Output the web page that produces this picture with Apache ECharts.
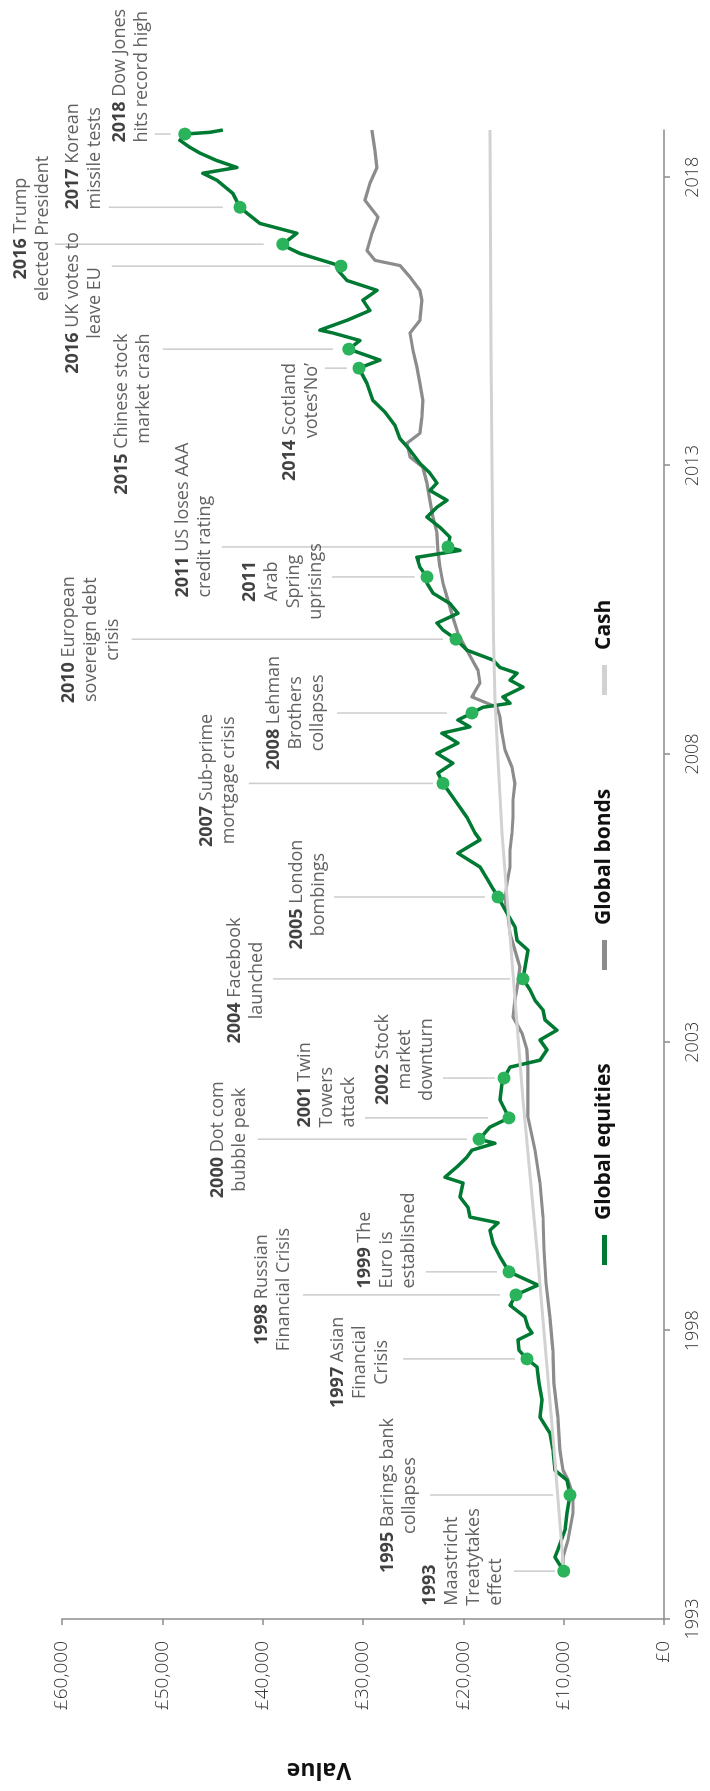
<!DOCTYPE html>
<html><head><meta charset="utf-8">
<script src="https://cdn.jsdelivr.net/npm/echarts@6/dist/echarts.min.js"></script>
<style>
html,body{margin:0;padding:0;width:710px;height:1791px;overflow:hidden;background:#fff;}
#wrap{position:absolute;left:0;top:0;width:1791px;height:710px;transform-origin:0 0;transform:translateY(1791px) rotate(-90deg);}
#chart{width:1791px;height:710px;}
</style></head><body>
<div id="wrap"><div id="chart"></div></div>
<script>
// ---------- DATA ----------
const equityYear = [1993.83,1994.07,1994.20,1994.54,1994.84,1995.15,1995.41,1995.58,1995.93,1996.22,1996.50,1996.80,1997.09,1997.37,1997.51,1997.66,1997.84,1997.96,1998.06,1998.24,1998.44,1998.62,1998.79,1999.02,1999.28,1999.52,1999.74,1999.87,1999.97,2000.14,2000.32,2000.56,2000.66,2000.84,2001.01,2001.13,2001.25,2001.32,2001.43,2001.53,2001.69,2002.00,2002.29,2002.38,2002.57,2002.69,2002.87,2003.04,2003.21,2003.39,2003.56,2003.73,2003.91,2004.10,2004.30,2004.60,2004.77,2005.00,2005.24,2005.52,2005.69,2005.81,2006.04,2006.28,2006.51,2006.63,2006.90,2007.20,2007.49,2007.67,2007.84,2008.01,2008.19,2008.36,2008.47,2008.59,2008.71,2008.81,2008.88,2008.99,2009.16,2009.28,2009.40,2009.50,2009.63,2009.80,2009.99,2010.15,2010.27,2010.44,2010.61,2010.79,2010.96,2011.07,2011.24,2011.41,2011.53,2011.59,2011.76,2011.93,2012.11,2012.28,2012.40,2012.57,2012.70,2012.87,2013.04,2013.27,2013.47,2013.70,2013.93,2014.13,2014.43,2014.69,2014.83,2015.02,2015.17,2015.30,2015.35,2015.52,2015.69,2015.87,2016.04,2016.21,2016.39,2016.46,2016.61,2016.68,2016.79,2016.84,2017.03,2017.20,2017.38,2017.48,2017.72,2017.95,2018.07,2018.17,2018.29,2018.42,2018.52,2018.64,2018.75,2018.78,2018.82];
const equityValue = [10000,10870,10570,9870,9670,9370,9670,10870,11070,11370,12360,12160,12460,12660,13660,14460,14560,13160,13560,13860,15350,14760,12560,15450,16350,17050,17350,16550,19340,19540,20340,20040,21830,20640,19640,19140,16850,18440,17850,17350,15450,16350,16150,15950,15350,12360,11660,12360,10670,11860,12060,12860,13360,14060,13860,13560,14660,14860,15650,16550,17150,17550,18340,20540,18340,18840,19640,20840,22030,22530,21040,22630,20540,22130,19340,20540,19140,18050,15350,16050,14060,15350,14660,16350,17050,19640,20740,22030,22630,20540,21340,23030,23630,23630,24330,24630,20340,21540,21340,22330,23630,22630,21630,23330,22630,23330,24330,25320,26320,26820,27820,29010,29610,30410,28310,31410,30310,33000,34300,31600,29310,30010,28610,31600,32500,32200,35000,36290,37590,37990,36590,40280,41570,42270,42970,44570,45960,42570,44570,46260,47260,48250,47760,45260,43970];

const bondYear = [1993.83,1994.07,1994.37,1994.84,1995.15,1995.41,1995.58,1995.93,1996.50,1997.09,1997.66,1998.24,1998.83,1999.40,1999.97,2000.56,2001.13,2001.70,2002.29,2002.57,2002.87,2003.16,2003.44,2003.73,2004.03,2004.30,2004.60,2004.89,2005.17,2005.47,2005.76,2006.04,2006.33,2006.63,2006.90,2007.20,2007.49,2007.77,2008.07,2008.36,2008.64,2008.81,2008.99,2009.23,2009.45,2009.80,2010.09,2010.37,2010.67,2010.96,2011.24,2011.53,2011.83,2012.11,2012.40,2012.70,2012.97,2013.15,2013.39,2013.56,2013.84,2014.13,2014.43,2014.71,2015.00,2015.30,2015.52,2015.87,2016.04,2016.27,2016.47,2016.56,2016.73,2017.03,2017.31,2017.60,2017.90,2018.17,2018.47,2018.82];
const bondValue = [10000,10070,9570,9070,9070,9570,10070,10370,10570,10970,11070,11370,11760,11960,12060,12360,12860,13560,13560,13560,13660,14160,15050,14860,14560,14360,14860,15350,15550,15850,15650,15350,15350,15150,15050,15050,14860,15150,15850,16150,16350,16650,19140,18340,18540,19640,20540,21040,21540,22030,22330,22530,22630,23030,23330,23630,24030,25320,25620,24330,24130,24030,24330,24630,25020,25320,24330,24130,24330,25320,26320,28810,29610,29110,28510,29810,29310,28610,28810,29110];

const cashYear = [1993.83,1996.00,1999.40,2002.00,2004.30,2006.63,2008.07,2008.93,2010.00,2015.00,2018.82];
const cashValue = [10000,11000,12660,14060,15100,16150,16600,16850,17000,17250,17350];

const eventYear = [1993.83,1995.15,1997.51,1998.62,1999.02,2001.32,2001.69,2002.38,2004.10,2005.52,2007.49,2008.71,2009.99,2011.07,2011.59,2014.69,2015.02,2016.46,2016.84,2017.48,2018.75];
const eventValue = [10000,9370,13660,14760,15450,18440,15450,15950,14060,16550,22030,19140,20740,23630,21540,30410,31410,32200,37990,42270,47760];
const eventTitle = ['1993','1995','1997','1998','1999','2000','2001','2002','2004','2005','2007','2008','2010','2011','2011','2014','2015','2016','2016','2017','2018'];
const eventText = [
  ['', 'Maastricht', 'Treatytakes', 'effect'],
  ['Barings bank', 'collapses'],
  ['Asian', 'Financial', 'Crisis'],
  ['Russian', 'Financial Crisis'],
  ['The', 'Euro is', 'established'],
  ['Dot com', 'bubble peak'],
  ['Twin', 'Towers', 'attack'],
  ['Stock', 'market', 'downturn'],
  ['Facebook', 'launched'],
  ['London', 'bombings'],
  ['Sub-prime', 'mortgage crisis'],
  ['Lehman', 'Brothers', 'collapses'],
  ['European', 'sovereign debt', 'crisis'],
  ['', 'Arab', 'Spring', 'uprisings'],
  ['US loses AAA', 'credit rating'],
  ['Scotland', 'votes\u2018No\u2019'],
  ['Chinese stock', 'market crash'],
  ['UK votes to', 'leave EU'],
  ['Trump', 'elected President'],
  ['Korean', 'missile tests'],
  ['Dow Jones', 'hits record high']
];
const seriesNames = ['Global equities', 'Global bonds', 'Cash'];
const yearTicks = [1993, 1998, 2003, 2008, 2013, 2018];

// ---------- LAYOUT (annotation placement, in axis units) ----------
const BASE_YEAR = 1993;
const labelAlign = ['left','center','center','center','left','center','left','center','center','center','center','center','center','center','left','right','right','center','center','left','left'];
const labelAt = [[1993.24,24420],[1995.15,28610],[1997.46,33590],[1998.72,41160],[1998.74,30900],[2001.32,45550],[2001.53,36880],[2002.71,29100],[2004.08,43850],[2005.57,37680],[2007.55,46650],[2008.72,39970],[2009.99,60400],[2011.00,42360],[2010.72,49040],[2014.79,38370],[2015.30,55120],[2015.83,60000],[2017.12,65180],[2017.45,60000],[2018.61,55320]];
const leaderSpan = [[14960,10870],[23330,11070],[26020,14860],[35990,16350],[23730,16650],[40480,19640],[29810,17550],[22030,16850],[38980,15350],[32900,17850],[41380,23030],[32600,21640],[53040,22030],[33100,24830],[44070,22830],[33800,31600],[49950,33000],[55030,33300],[60720,39880],[55330,43970],[50750,49150]];

// ---------- BUILD ----------
const FONT = '"Open Sans", "Noto Sans", sans-serif';
const toPts = (xs, ys) => xs.map((x, i) => [x - BASE_YEAR, ys[i]]);

const leaderData = [];
eventYear.forEach((y, i) => {
  leaderData.push([y - BASE_YEAR, leaderSpan[i][0]]);
  leaderData.push([y - BASE_YEAR, leaderSpan[i][1]]);
  leaderData.push([y - BASE_YEAR, '-']);
});

function labelText(i) {
  const t = eventText[i];
  let s = '{b|' + eventTitle[i] + '}' + (t[0] ? '{t| ' + t[0] + '}' : '');
  for (let k = 1; k < t.length; k++) s += '\n{t|' + t[k] + '}';
  return s;
}
const labelData = labelAt.map((p, i) => ({
  value: [p[0] - BASE_YEAR, p[1]],
  label: {
    show: true,
    position: [0, 0],
    align: labelAlign[i],
    verticalAlign: 'top',
    formatter: labelText(i),
    rich: {
      b: { fontFamily: FONT, fontSize: 18, fontWeight: 'bold', color: '#111', lineHeight: 22, align: labelAlign[i] },
      t: { fontFamily: FONT, fontSize: 18, fontWeight: 'normal', color: '#3a3a3a', lineHeight: 22, align: labelAlign[i] }
    }
  }
}));

const axisColor = '#8c8c8c';
const tickVals = yearTicks.map(y => y - BASE_YEAR);

function legendFor(name, left) {
  return {
    show: true, data: [name], left: left, top: 594, orient: 'horizontal',
    padding: 0, icon: 'rect', itemWidth: 30, itemHeight: 5,
    textStyle: { fontFamily: FONT, fontSize: 21, fontWeight: 'bold', color: '#111', padding: [0, 0, 0, 10] },
    selectedMode: false
  };
}

const option = {
  animation: false,
  backgroundColor: '#fff',
  grid: { left: 172, right: 130, top: 62, bottom: 46, containLabel: false, outerBoundsMode: 'none' },
  legend: [legendFor(seriesNames[0], 526), legendFor(seriesNames[1], 821), legendFor(seriesNames[2], 1096)],
  xAxis: {
    type: 'value', min: 0, max: 2018.82 - BASE_YEAR, position: 'bottom',
    splitLine: { show: false },
    axisLine: { show: true, onZero: false, lineStyle: { color: axisColor, width: 1.5 } },
    axisTick: { show: true, length: 6, customValues: tickVals, lineStyle: { color: axisColor, width: 1.5 } },
    axisLabel: { show: true, customValues: tickVals, margin: 20, fontFamily: FONT, fontSize: 18, fontWeight: 300, color: '#333',
      formatter: v => String(Math.round(v + BASE_YEAR)) }
  },
  yAxis: {
    type: 'value', min: 0, max: 60000, interval: 10000,
    splitLine: { show: false },
    axisLine: { show: true, lineStyle: { color: axisColor, width: 1.5 } },
    axisTick: { show: true, length: 6, lineStyle: { color: axisColor, width: 1.5 } },
    axisLabel: { margin: 22, fontFamily: FONT, fontSize: 19, fontWeight: 300, color: '#333',
      formatter: v => '\u00a3' + Number(v).toLocaleString('en-GB') }
  },
  graphic: [{
    type: 'text', x: 21, y: 319, rotation: Math.PI / 2,
    style: { text: 'Value', fill: '#111', font: 'bold 23px "Open Sans", sans-serif', align: 'center', verticalAlign: 'middle' }
  }],
  series: [
    { name: 'leaders', type: 'line', data: leaderData, showSymbol: false, clip: false, silent: true, z: 1,
      connectNulls: false, lineStyle: { color: '#cfcfcf', width: 1.6 }, itemStyle: { color: '#cfcfcf' } },
    { name: seriesNames[1], type: 'line', data: toPts(bondYear, bondValue), showSymbol: false, z: 2,
      color: '#8c8c8c', itemStyle: { color: '#8c8c8c' }, lineStyle: { color: '#8c8c8c', width: 3.2, join: 'round' } },
    { name: seriesNames[0], type: 'line', data: toPts(equityYear, equityValue), showSymbol: false, z: 3,
      color: '#007a33', itemStyle: { color: '#007a33' }, lineStyle: { color: '#007a33', width: 3.5, join: 'round' } },
    { name: seriesNames[2], type: 'line', data: toPts(cashYear, cashValue), showSymbol: false, z: 4,
      color: '#d2d2d2', itemStyle: { color: '#d2d2d2' }, lineStyle: { color: '#d2d2d2', width: 3 } },
    { name: 'events', type: 'scatter', data: toPts(eventYear, eventValue), symbolSize: 13, z: 5,
      itemStyle: { color: '#2bb35b', opacity: 1 }, silent: true },
    { name: 'labels', type: 'scatter', data: labelData, symbolSize: 1, clip: false, z: 6, silent: true,
      itemStyle: { color: 'rgba(0,0,0,0)' } }
  ]
};

const chart = echarts.init(document.getElementById('chart'), null, { renderer: 'canvas', width: 1791, height: 710 });
chart.setOption(option);
</script>
</body></html>
